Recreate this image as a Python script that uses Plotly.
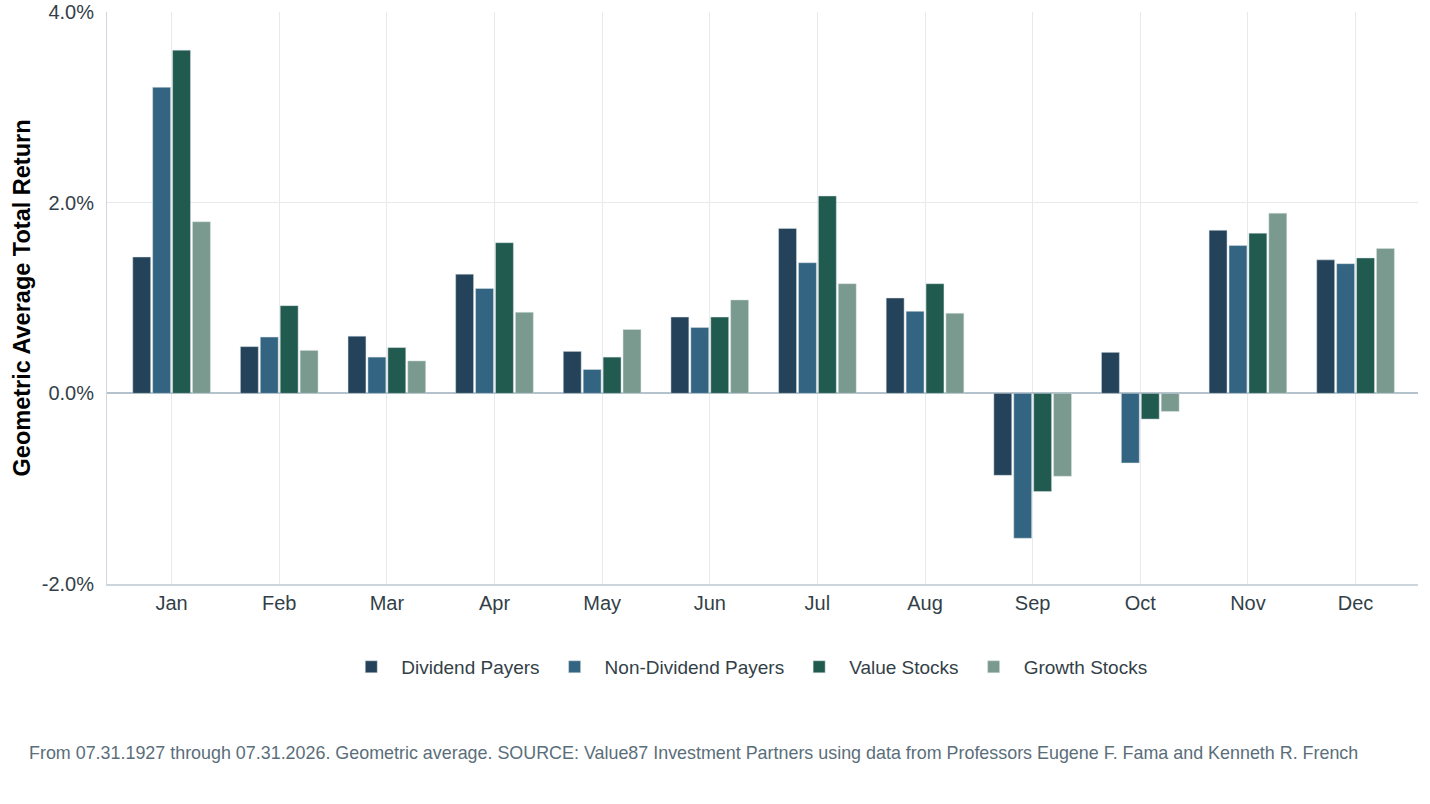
import plotly.graph_objects as go

months = ['Jan', 'Feb', 'Mar', 'Apr', 'May', 'Jun', 'Jul', 'Aug', 'Sep', 'Oct', 'Nov', 'Dec']

dividend_payers = [1.43, 0.49, 0.60, 1.25, 0.44, 0.80, 1.73, 1.00, -0.86, 0.43, 1.71, 1.40]
non_dividend_payers = [3.21, 0.59, 0.38, 1.10, 0.25, 0.69, 1.37, 0.86, -1.52, -0.73, 1.55, 1.36]
value_stocks = [3.60, 0.92, 0.48, 1.58, 0.38, 0.80, 2.07, 1.15, -1.03, -0.27, 1.68, 1.42]
growth_stocks = [1.80, 0.45, 0.34, 0.85, 0.67, 0.98, 1.15, 0.84, -0.87, -0.19, 1.89, 1.52]

y_tickvals = [-2, 0, 2, 4]
y_ticktext = ['-2.0%', '0.0%', '2.0%', '4.0%']

series = [
    ('Dividend Payers', dividend_payers, '#24435a'),
    ('Non-Dividend Payers', non_dividend_payers, '#336481'),
    ('Value Stocks', value_stocks, '#215a4f'),
    ('Growth Stocks', growth_stocks, '#7a9a90'),
]

FONT = 'Liberation Sans, Arial, sans-serif'
TEXT = '#333f48'
CONFIG = {'displayModeBar': False}

fig = go.Figure()
for name, vals, color in series:
    fig.add_trace(go.Bar(
        name=name,
        x=months,
        y=vals,
        marker=dict(color=color, line=dict(color='rgba(220,228,232,0.8)', width=0.6)),
    ))

fig.update_layout(
    width=1430,
    height=804,
    barmode='group',
    bargap=0.26,
    bargroupgap=0.1,
    plot_bgcolor='white',
    paper_bgcolor='white',
    margin=dict(l=107, r=12, t=12, b=220),
    font=dict(family=FONT, color=TEXT),
    xaxis=dict(
        range=[-0.6, 11.58],
        showgrid=True,
        gridcolor='#e6eaec',
        showline=True,
        linecolor='#ccd6dc',
        linewidth=2,
        tickfont=dict(size=20, color=TEXT),
        ticks='',
        automargin=False,
    ),
    yaxis=dict(
        range=[-2, 4],
        tickvals=y_tickvals,
        ticktext=y_ticktext,
        showgrid=True,
        gridcolor='#e6eaec',
        showline=True,
        linecolor='#ccd6dc',
        zeroline=True,
        zerolinecolor='#b3c2cc',
        zerolinewidth=1.5,
        tickfont=dict(size=20, color=TEXT),
        ticklabelstandoff=8,
        ticklabeloverflow='allow',
        automargin=False,
    ),
    legend=dict(
        orientation='h',
        x=0.488,
        xanchor='center',
        y=-0.145,
        yanchor='middle',
        font=dict(size=19, color=TEXT),
        itemwidth=50,
        traceorder='normal',
    ),
    annotations=[
        dict(
            text='<b>Geometric Average Total Return</b>',
            xref='paper', yref='paper',
            x=-0.0645, y=0.5,
            xanchor='center', yanchor='middle',
            textangle=-90,
            showarrow=False,
            font=dict(size=23.5, color='black'),
        ),
        dict(
            text='From 07.31.1927 through 07.31.2026. Geometric average. SOURCE: Value87 Investment Partners using data from Professors Eugene F. Fama and Kenneth R. French',
            xref='paper', yref='paper',
            x=-0.061, y=-0.2955,
            xanchor='left', yanchor='middle',
            showarrow=False,
            font=dict(size=17.9, color='#5a6e7a'),
        ),
    ],
)

# drop the browser's default body margin so the figure sits at the page corner
fig.write_html('out.html', config=CONFIG, post_script="document.body.style.margin='0';")
